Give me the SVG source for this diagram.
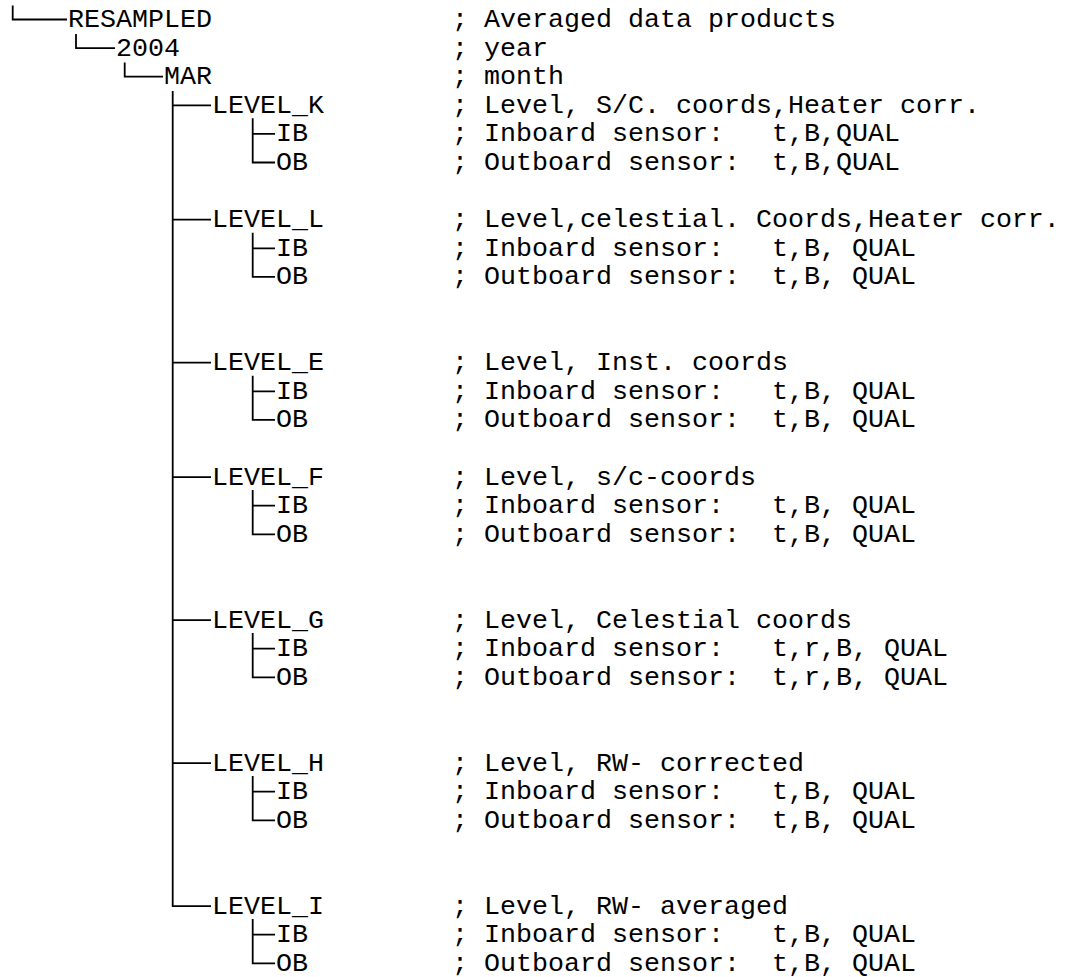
<svg xmlns="http://www.w3.org/2000/svg" width="1067" height="977" viewBox="0 0 1067 977">
<style>
text{font-family:"Liberation Mono","Courier New",monospace;font-size:26.67px;fill:#000;white-space:pre}
.c path{fill:none;stroke:#000;stroke-width:1.8}
</style>
<rect width="1067" height="977" fill="#fff"/>
<g class="c" id="connectors">
<path d="M12.7 5.5V19.5H67"/>
<path d="M76 34V48.1H115"/>
<path d="M124.7 62.5V76.7H163"/>
<path d="M172.7 91V906.1H211"/>
<path d="M172.7 105.3H211M172.7 219.7H211M172.7 362.7H211M172.7 477.1H211M172.7 620.1H211M172.7 763.1H211"/>
<path d="M252.7 118.3V162.5H275M252.7 133.9H275"/>
<path d="M252.7 232.7V276.9H275M252.7 248.3H275"/>
<path d="M252.7 375.7V419.9H275M252.7 391.3H275"/>
<path d="M252.7 490.1V534.3H275M252.7 505.7H275"/>
<path d="M252.7 633.1V677.3H275M252.7 648.7H275"/>
<path d="M252.7 776.1V820.3H275M252.7 791.7H275"/>
<path d="M252.7 919.1V963.3H275M252.7 934.7H275"/>
</g>
<g id="resampled"><text x="68" y="27">RESAMPLED</text><text x="452" y="27" xml:space="preserve">; Averaged data products</text></g>
<g id="y2004"><text x="116" y="55.6">2004</text><text x="452" y="55.6" xml:space="preserve">; year</text></g>
<g id="mar"><text x="164" y="84.2">MAR</text><text x="452" y="84.2" xml:space="preserve">; month</text></g>

<g id="level_k"><text x="212" y="112.8">LEVEL_K</text><text x="452" y="112.8" xml:space="preserve">; Level, S/C. coords,Heater corr.</text></g>
<g id="k_ib"><text x="276" y="141.4">IB</text><text x="452" y="141.4" xml:space="preserve">; Inboard sensor:   t,B,QUAL</text></g>
<g id="k_ob"><text x="276" y="170">OB</text><text x="452" y="170" xml:space="preserve">; Outboard sensor:  t,B,QUAL</text></g>

<g id="level_l"><text x="212" y="227.2">LEVEL_L</text><text x="452" y="227.2" xml:space="preserve">; Level,celestial. Coords,Heater corr.</text></g>
<g id="l_ib"><text x="276" y="255.8">IB</text><text x="452" y="255.8" xml:space="preserve">; Inboard sensor:   t,B, QUAL</text></g>
<g id="l_ob"><text x="276" y="284.4">OB</text><text x="452" y="284.4" xml:space="preserve">; Outboard sensor:  t,B, QUAL</text></g>

<g id="level_e"><text x="212" y="370.2">LEVEL_E</text><text x="452" y="370.2" xml:space="preserve">; Level, Inst. coords</text></g>
<g id="e_ib"><text x="276" y="398.8">IB</text><text x="452" y="398.8" xml:space="preserve">; Inboard sensor:   t,B, QUAL</text></g>
<g id="e_ob"><text x="276" y="427.4">OB</text><text x="452" y="427.4" xml:space="preserve">; Outboard sensor:  t,B, QUAL</text></g>

<g id="level_f"><text x="212" y="484.6">LEVEL_F</text><text x="452" y="484.6" xml:space="preserve">; Level, s/c-coords</text></g>
<g id="f_ib"><text x="276" y="513.2">IB</text><text x="452" y="513.2" xml:space="preserve">; Inboard sensor:   t,B, QUAL</text></g>
<g id="f_ob"><text x="276" y="541.8">OB</text><text x="452" y="541.8" xml:space="preserve">; Outboard sensor:  t,B, QUAL</text></g>

<g id="level_g"><text x="212" y="627.6">LEVEL_G</text><text x="452" y="627.6" xml:space="preserve">; Level, Celestial coords</text></g>
<g id="g_ib"><text x="276" y="656.2">IB</text><text x="452" y="656.2" xml:space="preserve">; Inboard sensor:   t,r,B, QUAL</text></g>
<g id="g_ob"><text x="276" y="684.8">OB</text><text x="452" y="684.8" xml:space="preserve">; Outboard sensor:  t,r,B, QUAL</text></g>

<g id="level_h"><text x="212" y="770.6">LEVEL_H</text><text x="452" y="770.6" xml:space="preserve">; Level, RW- corrected</text></g>
<g id="h_ib"><text x="276" y="799.2">IB</text><text x="452" y="799.2" xml:space="preserve">; Inboard sensor:   t,B, QUAL</text></g>
<g id="h_ob"><text x="276" y="827.8">OB</text><text x="452" y="827.8" xml:space="preserve">; Outboard sensor:  t,B, QUAL</text></g>

<g id="level_i"><text x="212" y="913.6">LEVEL_I</text><text x="452" y="913.6" xml:space="preserve">; Level, RW- averaged</text></g>
<g id="i_ib"><text x="276" y="942.2">IB</text><text x="452" y="942.2" xml:space="preserve">; Inboard sensor:   t,B, QUAL</text></g>
<g id="i_ob"><text x="276" y="970.8">OB</text><text x="452" y="970.8" xml:space="preserve">; Outboard sensor:  t,B, QUAL</text></g>
</svg>
